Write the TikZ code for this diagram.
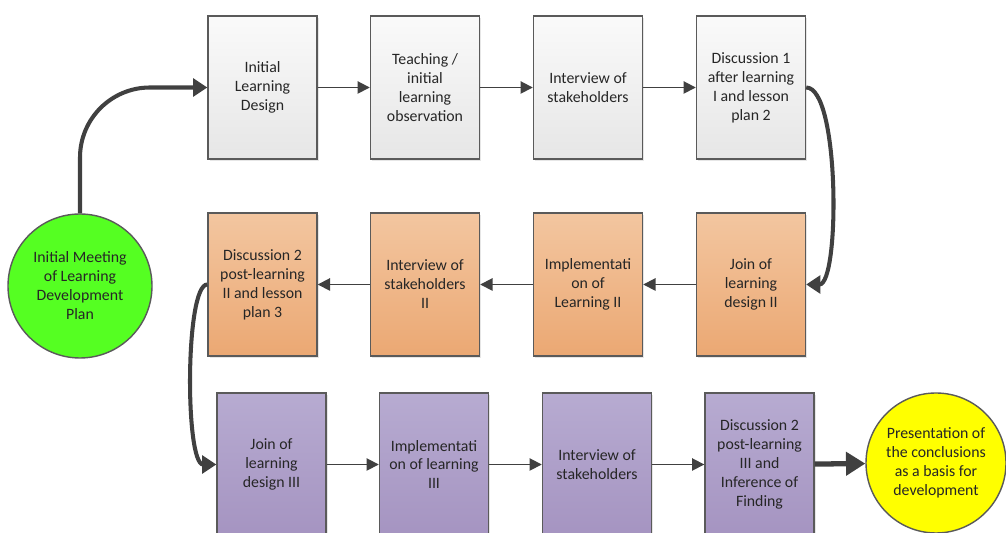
\documentclass[tikz,border=0pt]{standalone}
\usepackage{fontspec}
\setmainfont{Carlito}
\usepackage{tikz}
\usetikzlibrary{arrows.meta,shadows}

\definecolor{edgegray}{HTML}{5A5A5A}
\definecolor{arrowgray}{HTML}{404040}
\definecolor{graytop}{HTML}{FAFAFA}
\definecolor{graybot}{HTML}{E6E6E6}
\definecolor{orangetop}{HTML}{F3C6A0}
\definecolor{orangebot}{HTML}{EBA873}
\definecolor{purpletop}{HTML}{B7ABD1}
\definecolor{purplebot}{HTML}{A594C1}
\definecolor{startgreen}{HTML}{55FF22}
\definecolor{endyellow}{HTML}{FFFF00}

\tikzset{
	box/.style={draw=edgegray, line width=0.8pt, minimum width=2.18cm, minimum height=2.86cm,
		align=center, inner sep=1pt, font=\fontsize{9}{10.8}\selectfont, text=black!85,
		drop shadow={shadow xshift=1pt, shadow yshift=-1pt, opacity=0.2}},
	graybox/.style={box, top color=graytop, bottom color=graybot},
	orangebox/.style={box, top color=orangetop, bottom color=orangebot},
	purplebox/.style={box, top color=purpletop, bottom color=purplebot},
	roundnode/.style={circle, draw=edgegray, line width=0.8pt, inner sep=0pt, align=center,
		font=\fontsize{9}{10.8}\selectfont, text=black!85},
	thin/.style={draw=arrowgray, line width=1pt, -{Triangle[length=7pt, width=7pt]}},
	thick/.style={draw=arrowgray, line width=2.3pt, -{Triangle[length=8pt, width=10pt]}},
}

\begin{document}
\begin{tikzpicture}
		\useasboundingbox (0,0) rectangle (20.12,10.66);
		
		\node[roundnode, fill=startgreen, minimum size=2.88cm] (0) at (1.6,4.94) {Initial Meeting\\of Learning\\Development\\Plan};
		
		\node[graybox] (1) at (5.25,8.91) {Initial\\Learning\\Design};
		\node[graybox] (2) at (8.5,8.91) {Teaching /\\initial\\learning\\observation};
		\node[graybox] (3) at (11.76,8.91) {Interview of\\stakeholders};
		\node[graybox] (4) at (15.02,8.91) {Discussion 1\\after learning\\I and lesson\\plan 2};
		
		\node[orangebox] (5) at (15.02,4.97) {Join of\\learning\\design II};
		\node[orangebox] (6) at (11.76,4.97) {Implementati\\on of\\Learning II};
		\node[orangebox] (7) at (8.5,4.97) {Interview of\\stakeholders\\II};
		\node[orangebox] (8) at (5.25,4.97) {Discussion 2\\post-learning\\II and lesson\\plan 3};
		
		\node[purplebox] (9) at (5.43,1.37) {Join of\\learning\\design III};
		\node[purplebox] (10) at (8.68,1.37) {Implementati\\on of learning\\III};
		\node[purplebox] (11) at (11.94,1.37) {Interview of\\stakeholders};
		\node[purplebox] (12) at (15.19,1.37) {Discussion 2\\post-learning\\III and\\Inference of\\Finding};
		
		\node[roundnode, fill=endyellow, minimum size=2.8cm] (13) at (18.72,1.4) {Presentation of\\the conclusions\\as a basis for\\development};
		
		\draw[thick, rounded corners=1.4cm] (0.north) |- (1.west);
		\draw[thin] (1) -- (2);
		\draw[thin] (2) -- (3);
		\draw[thin] (3) -- (4);
		\draw[thick] (4.east) .. controls (16.8,8.91) and (16.8,4.97) .. (5.east);
		\draw[thin] (5) -- (6);
		\draw[thin] (6) -- (7);
		\draw[thin] (7) -- (8);
		\draw[thick] (8.west) .. controls (3.7,4.97) and (3.7,1.37) .. (9.west);
		\draw[thin] (9) -- (10);
		\draw[thin] (10) -- (11);
		\draw[thin] (11) -- (12);
		\draw[thick, line width=3pt, -{Triangle[length=11pt, width=13pt]}] (12) -- (13);
		
\end{tikzpicture}
\end{document}
